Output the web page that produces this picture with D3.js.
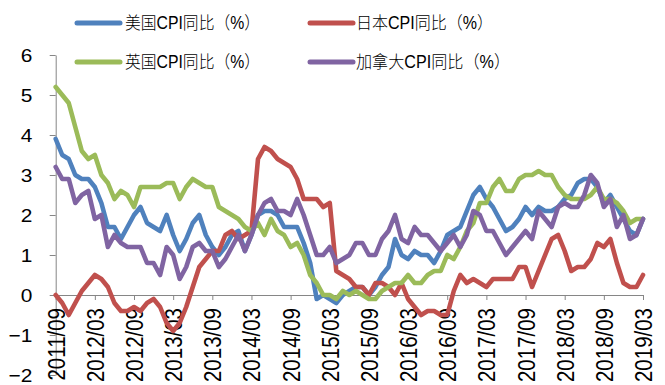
<!DOCTYPE html>
<html>
<head>
<meta charset="utf-8">
<script src="https://cdn.jsdelivr.net/npm/d3@7/dist/d3.min.js"></script>
<style>
  body { margin: 0; background: #fff; }
  text { font-family: "Liberation Sans", Arial, "Noto Sans CJK SC", sans-serif; fill: #000; }
</style>
</head>
<body>
<svg id="chart" width="665" height="385"></svg>
<script>
// Monthly categories, 2011/09 – 2019/03
const categories = [
  "2011/09","2011/10","2011/11","2011/12",
  "2012/01","2012/02","2012/03","2012/04","2012/05","2012/06","2012/07","2012/08","2012/09","2012/10","2012/11","2012/12",
  "2013/01","2013/02","2013/03","2013/04","2013/05","2013/06","2013/07","2013/08","2013/09","2013/10","2013/11","2013/12",
  "2014/01","2014/02","2014/03","2014/04","2014/05","2014/06","2014/07","2014/08","2014/09","2014/10","2014/11","2014/12",
  "2015/01","2015/02","2015/03","2015/04","2015/05","2015/06","2015/07","2015/08","2015/09","2015/10","2015/11","2015/12",
  "2016/01","2016/02","2016/03","2016/04","2016/05","2016/06","2016/07","2016/08","2016/09","2016/10","2016/11","2016/12",
  "2017/01","2017/02","2017/03","2017/04","2017/05","2017/06","2017/07","2017/08","2017/09","2017/10","2017/11","2017/12",
  "2018/01","2018/02","2018/03","2018/04","2018/05","2018/06","2018/07","2018/08","2018/09","2018/10","2018/11","2018/12",
  "2019/01","2019/02","2019/03"
];

const tickLabels = [
  "2011/09","2012/03","2012/09","2013/03","2013/09","2014/03","2014/09","2015/03",
  "2015/09","2016/03","2016/09","2017/03","2017/09","2018/03","2018/09","2019/03"
];

const yTicks = [-2, -1, 0, 1, 2, 3, 4, 5, 6];

// CPI year-on-year, %
const usCPI = [3.9,3.5,3.4,3.0,
  2.9,2.9,2.7,2.3,1.7,1.7,1.4,1.7,2.0,2.2,1.8,1.7,
  1.6,2.0,1.5,1.1,1.4,1.8,2.0,1.5,1.2,1.0,1.2,1.5,
  1.6,1.1,1.5,2.0,2.1,2.1,2.0,1.7,1.7,1.7,1.3,0.8,
  -0.1,0.0,-0.1,-0.2,0.0,0.1,0.2,0.2,0.0,0.2,0.5,0.7,
  1.4,1.0,0.9,1.1,1.0,1.0,0.8,1.1,1.5,1.6,1.7,2.1,
  2.5,2.7,2.4,2.2,1.9,1.6,1.7,1.9,2.2,2.0,2.2,2.1,
  2.1,2.2,2.4,2.5,2.8,2.9,2.9,2.7,2.3,2.5,2.2,1.9,
  1.6,1.5,1.9];

const jpCPI = [0.0,-0.2,-0.5,-0.2,
  0.1,0.3,0.5,0.4,0.2,-0.2,-0.4,-0.4,-0.3,-0.4,-0.2,-0.1,
  -0.3,-0.7,-0.9,-0.7,-0.3,0.2,0.7,0.9,1.1,1.1,1.5,1.6,
  1.4,1.5,1.6,3.4,3.7,3.6,3.4,3.3,3.2,2.9,2.4,2.4,
  2.4,2.2,2.3,0.6,0.5,0.4,0.2,0.2,0.0,0.3,0.3,0.2,
  0.0,0.3,-0.1,-0.3,-0.5,-0.4,-0.4,-0.5,-0.5,0.1,0.5,0.3,
  0.4,0.3,0.2,0.4,0.4,0.4,0.4,0.7,0.7,0.2,0.6,1.0,
  1.4,1.5,1.1,0.6,0.7,0.7,0.9,1.3,1.2,1.4,0.8,0.3,
  0.2,0.2,0.5];

const ukCPI = [5.2,5.0,4.8,4.2,
  3.6,3.4,3.5,3.0,2.8,2.4,2.6,2.5,2.2,2.7,2.7,2.7,
  2.7,2.8,2.8,2.4,2.7,2.9,2.8,2.7,2.7,2.2,2.1,2.0,
  1.9,1.7,1.6,1.8,1.5,1.9,1.6,1.5,1.2,1.3,1.0,0.5,
  0.3,0.0,0.0,-0.1,0.1,0.0,0.1,0.0,-0.1,-0.1,0.1,0.2,
  0.3,0.3,0.5,0.3,0.3,0.5,0.6,0.6,1.0,0.9,1.2,1.6,
  1.8,2.3,2.3,2.7,2.9,2.6,2.6,2.9,3.0,3.0,3.1,3.0,
  3.0,2.7,2.5,2.4,2.4,2.4,2.5,2.7,2.4,2.4,2.3,2.1,
  1.8,1.9,1.9];

const caCPI = [3.2,2.9,2.9,2.3,
  2.5,2.6,1.9,2.0,1.2,1.5,1.3,1.2,1.2,1.2,0.8,0.8,
  0.5,1.2,1.0,0.4,0.7,1.2,1.3,1.1,1.1,0.7,0.9,1.2,
  1.5,1.1,1.5,2.0,2.3,2.4,2.1,2.1,2.0,2.4,2.0,1.5,
  1.0,1.0,1.2,0.8,0.9,1.0,1.3,1.3,1.0,1.0,1.4,1.6,
  2.0,1.4,1.3,1.7,1.5,1.5,1.3,1.1,1.3,1.5,1.2,1.5,
  2.1,2.0,1.6,1.6,1.3,1.0,1.2,1.4,1.6,1.4,2.1,1.9,
  1.7,2.2,2.3,2.2,2.2,2.5,3.0,2.8,2.2,2.4,1.7,2.0,
  1.4,1.5,1.9];

const seriesNames  = ["美国CPI同比（%）", "日本CPI同比（%）", "英国CPI同比（%）", "加拿大CPI同比（%）"];
const seriesColors = ["#4F81BD", "#C0504D", "#9BBB59", "#8064A2"];
const seriesValues = [usCPI, jpCPI, ukCPI, caCPI];

const svg = d3.select("#chart");
const axisColor = "#868686";

const x = d3.scalePoint().domain(categories).range([55.7, 643]);
const y = d3.scaleLinear().domain([-2, 6]).range([375, 55]);

// Y axis
const yAxis = svg.append("g")
  .attr("transform", `translate(${x.range()[0]},0)`)
  .call(d3.axisLeft(y).tickValues(yTicks).tickSize(6).tickSizeOuter(0).tickFormat(d3.format("d")));
yAxis.select(".domain").attr("stroke", axisColor);
yAxis.selectAll(".tick line").attr("stroke", axisColor);
yAxis.selectAll(".tick text")
  .attr("x", -20.7)
  .attr("dy", "0.36em")
  .attr("text-anchor", "end")
  .attr("transform", "scale(1.13,1)")
  .style("font-size", "18.5px");

// X axis along zero
const xAxis = svg.append("g")
  .attr("transform", `translate(0,${y(0)})`)
  .call(d3.axisBottom(x).tickValues(tickLabels).tickSize(5).tickSizeOuter(0));
xAxis.select(".domain").attr("stroke", axisColor);
xAxis.selectAll(".tick line").attr("stroke", axisColor);
xAxis.selectAll(".tick text")
  .attr("x", -13)
  .attr("y", 0)
  .attr("dy", "0.36em")
  .attr("text-anchor", "end")
  .attr("transform", "rotate(-90) scale(1,1.15)")
  .style("font-size", "20.5px");

// Series lines
const line = d3.line()
  .x((d, i) => x(categories[i]))
  .y(d => y(d));

seriesValues.forEach((vals, k) => {
  svg.append("path")
    .datum(vals)
    .attr("d", line)
    .attr("fill", "none")
    .attr("stroke", seriesColors[k])
    .attr("stroke-width", 4.6)
    .attr("stroke-linejoin", "round")
    .attr("stroke-linecap", "round");
});

// Legend, two rows of two
const legendPos = [
  { lx: 77,  ly: 23, tx: 125, w: 135 },
  { lx: 310, ly: 23, tx: 356, w: 137 },
  { lx: 77,  ly: 62, tx: 125, w: 135 },
  { lx: 310, ly: 62, tx: 356, w: 154 }
];
const legend = svg.append("g");
seriesNames.forEach((name, k) => {
  const p = legendPos[k];
  legend.append("line")
    .attr("x1", p.lx).attr("x2", p.lx + 43)
    .attr("y1", p.ly).attr("y2", p.ly)
    .attr("stroke", seriesColors[k])
    .attr("stroke-width", 5)
    .attr("stroke-linecap", "round");
  legend.append("text")
    .attr("x", p.tx).attr("y", p.ly)
    .attr("dy", "0.36em")
    .attr("textLength", p.w)
    .attr("lengthAdjust", "spacingAndGlyphs")
    .style("font-size", "17.5px")
    .style("font-weight", 300)
    .text(name);
});
</script>
</body>
</html>
